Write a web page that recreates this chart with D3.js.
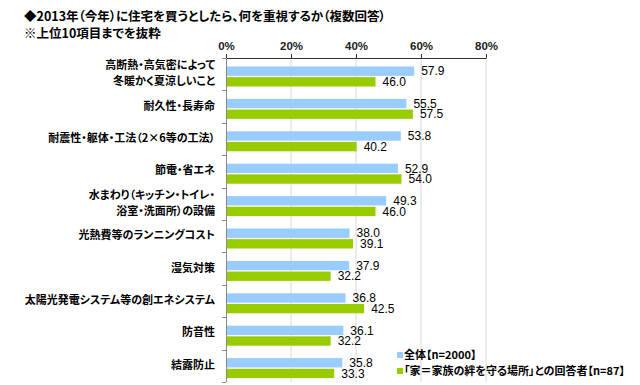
<!DOCTYPE html>
<html><head><meta charset="utf-8">
<script src="https://cdn.jsdelivr.net/npm/d3@7"></script>
<style>body{margin:0;background:#fff}svg{display:block}.jp{font-feature-settings:"palt" 1;}</style>
</head><body>
<svg id="c" width="640" height="385"></svg>
<script>
const titleLines = ["◆2013年（今年）に住宅を買うとしたら、何を重視するか（複数回答）", "※上位10項目までを抜粋"];
const categories = [
  ["高断熱・高気密によって", "冬暖かく夏涼しいこと"],
  ["耐久性・長寿命"],
  ["耐震性・躯体・工法（2×6等の工法）"],
  ["節電・省エネ"],
  ["水まわり（キッチン・トイレ・", "浴室・洗面所）の設備"],
  ["光熱費等のランニングコスト"],
  ["湿気対策"],
  ["太陽光発電システム等の創エネシステム"],
  ["防音性"],
  ["結露防止"]
];
const seriesNames = ["全体【n=2000】", "「家＝家族の絆を守る場所」との回答者【n=87】"];
const allValues = [57.9, 55.5, 53.8, 52.9, 49.3, 38.0, 37.9, 36.8, 36.1, 35.8];
const familyValues = [46.0, 57.5, 40.2, 54.0, 46.0, 39.1, 32.2, 42.5, 32.2, 33.3];
const tickValues = [0, 20, 40, 60, 80];
const colors = ["#99ccff", "#99cc00"];

const svg = d3.select("#c");
const font = "'Noto Sans CJK JP', sans-serif";
const x = d3.scaleLinear().domain([0, 80]).range([226, 486]);
const y = d3.scaleBand().domain(d3.range(categories.length)).range([58, 382]);
const inner = d3.scaleBand().domain([0, 1]).range([0, 20]).paddingInner(0.12);

// title
svg.selectAll("text.title").data(titleLines).join("text").attr("class", "title jp")
  .attr("x", 24).attr("y", (d, i) => 21 + i * 17)
  .attr("font-family", font).attr("font-weight", "bold").attr("font-size", 12.5)
  .attr("fill", "#000").text(d => d);

// grid lines
svg.append("g").selectAll("line").data(tickValues.slice(1)).join("line")
  .attr("x1", d => x(d)).attr("x2", d => x(d)).attr("y1", 58).attr("y2", 382)
  .attr("stroke", "#d9d9d9").attr("stroke-width", 1);

// top axis
const topAxis = svg.append("g").attr("transform", "translate(0,58)")
  .call(d3.axisTop(x).tickValues(tickValues).tickFormat(d => d + "%").tickSizeInner(4).tickSizeOuter(0));
topAxis.select(".domain").attr("stroke", "#333");
topAxis.selectAll(".tick line").attr("stroke", "#333");
topAxis.selectAll("text").attr("font-family", "'Liberation Sans', sans-serif").attr("font-weight", "bold")
  .attr("font-size", 11.5).attr("fill", "#222").attr("dy", "-1");

// left axis line & ticks
const lg = svg.append("g");
lg.append("line").attr("x1", 226.5).attr("x2", 226.5).attr("y1", 58).attr("y2", 382).attr("stroke", "#888");
lg.selectAll("line.t").data(d3.range(categories.length + 1)).join("line").attr("class", "t")
  .attr("x1", 222).attr("x2", 226)
  .attr("y1", d => Math.round(58 + d * y.step()) + 0.5)
  .attr("y2", d => Math.round(58 + d * y.step()) + 0.5)
  .attr("stroke", "#888");

// bars
const groups = svg.append("g").selectAll("g").data(categories.map((c, i) => i)).join("g")
  .attr("transform", i => `translate(0,${y(i) + 8.5})`);
const seriesArr = [allValues, familyValues];
groups.each(function(i) {
  const g = d3.select(this);
  seriesArr.forEach((vals, s) => {
    g.append("rect").attr("x", x(0) + 1).attr("y", inner(s))
      .attr("width", x(vals[i]) - x(0) - 1).attr("height", inner.bandwidth())
      .attr("fill", colors[s]);
    g.append("text").attr("x", x(vals[i]) + 7).attr("y", inner(s) + inner.bandwidth() / 2 + 1)
      .attr("dominant-baseline", "middle")
      .attr("font-family", "'Liberation Sans', Arial, sans-serif").attr("font-size", 12)
      .attr("fill", "#000").text(vals[i].toFixed(1));
  });
});

// category labels
svg.append("g").selectAll("text").data(categories).join("text").attr("class", "jp")
  .attr("text-anchor", "end").attr("font-family", font).attr("font-weight", "bold")
  .attr("font-size", 11).attr("fill", "#000")
  .each(function(lines, i) {
    const cy = y(i) + y.bandwidth() / 2 - 1;
    const t = d3.select(this);
    lines.forEach((l, k) => {
      t.append("tspan").attr("x", 215)
        .attr("y", cy + (k - (lines.length - 1) / 2) * 16 + 4).text(l);
    });
  });

// legend
const leg = svg.append("g").selectAll("g").data(seriesNames).join("g")
  .attr("transform", (d, i) => `translate(397,${355 + i * 16})`);
leg.append("rect").attr("x", 0).attr("y", -3).attr("width", 6).attr("height", 6).attr("fill", (d, i) => colors[i]);
leg.append("text").attr("class", "jp").attr("x", 7).attr("y", 4).attr("font-family", font).attr("font-weight", "bold")
  .attr("font-size", 11).attr("fill", "#000").text(d => d);
</script>
</body></html>
